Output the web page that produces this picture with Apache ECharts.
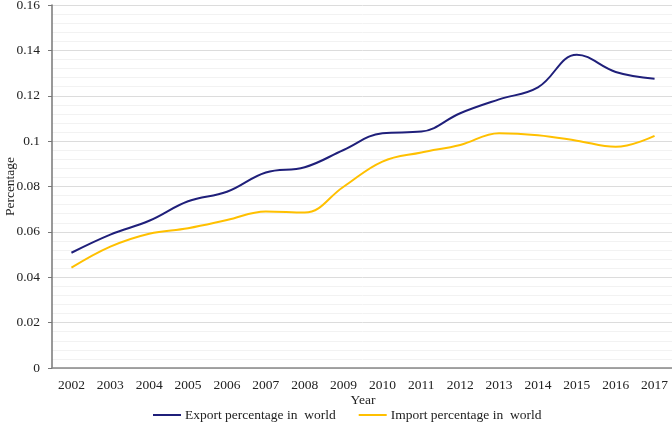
<!DOCTYPE html>
<html>
<head>
<meta charset="utf-8">
<script src="https://cdn.jsdelivr.net/npm/echarts@6/dist/echarts.min.js"></script>
<style>html,body{margin:0;padding:0;background:#fff}#c{width:672px;height:425px}</style>
</head>
<body>
<div id="c"></div>
<script>
const years = ['2002','2003','2004','2005','2006','2007','2008','2009','2010','2011','2012','2013','2014','2015','2016','2017'];
const exportPct = [0.0508,0.0588,0.0649,0.0735,0.0777,0.0862,0.0885,0.0961,0.1035,0.1042,0.1123,0.1184,0.1237,0.1381,0.1305,0.1275];
const importPct = [0.0442,0.0535,0.0592,0.0616,0.0652,0.0690,0.0685,0.0799,0.0910,0.0950,0.0983,0.1035,0.1026,0.1002,0.0975,0.1023];
const yTicks = [0,0.02,0.04,0.06,0.08,0.1,0.12,0.14,0.16];

const font = '"Liberation Serif","Times New Roman",serif';
const chart = echarts.init(document.getElementById('c'));
chart.setOption({
  animation: false,
  textStyle: {fontFamily: font},
  grid: {left: 52, top: 5, width: 622, bottom: 57, containLabel: false, outerBoundsMode: 'none'},
  legend: {
    bottom: -2, left: 148,
    data: ['Export percentage in  world','Import percentage in  world'],
    icon: 'rect', itemWidth: 28, itemHeight: 2, itemGap: 23,
    textStyle: {fontFamily: font, fontSize: 13.5, color: '#222', padding: [0, 0, 0, -1]}
  },
  xAxis: {
    type: 'category', data: years, boundaryGap: true,
    name: 'Year', nameLocation: 'middle', nameGap: 25, nameMoveOverlap: false,
    nameTextStyle: {fontFamily: font, fontSize: 13.5, color: '#222'},
    axisLine: {lineStyle: {color: '#888', width: 1.5}},
    axisTick: {show: false},
    axisLabel: {fontFamily: font, fontSize: 13.5, color: '#222', margin: 10, interval: 0},
    splitLine: {show: false}
  },
  yAxis: {
    type: 'value', min: 0, max: 0.16, interval: 0.02,
    name: 'Percentage', nameLocation: 'middle', nameGap: 35, nameMoveOverlap: false,
    nameTextStyle: {fontFamily: font, fontSize: 13.5, color: '#222'},
    axisLine: {show: true, lineStyle: {color: '#777', width: 1.5}},
    axisTick: {show: true, length: 4, lineStyle: {color: '#777'}},
    axisLabel: {fontFamily: font, fontSize: 13.5, color: '#222', margin: 12,
      formatter: v => { const t = yTicks.find(x => Math.abs(x - v) < 1e-9); return String(+(t ?? v).toFixed(2)); }},
    splitLine: {lineStyle: {color: '#dcdcdc', width: 1}},
    minorTick: {show: false, splitNumber: 5},
    minorSplitLine: {show: true, lineStyle: {color: '#f2f2f2', width: 1}}
  },
  series: [
    {name: 'Export percentage in  world', type: 'line', data: exportPct, smooth: 0.4, showSymbol: false,
     lineStyle: {color: '#1f1f7a', width: 2}, itemStyle: {color: '#1f1f7a'}},
    {name: 'Import percentage in  world', type: 'line', data: importPct, smooth: 0.4, showSymbol: false,
     lineStyle: {color: '#ffc000', width: 2}, itemStyle: {color: '#ffc000'}}
  ]
});
</script>
</body>
</html>
